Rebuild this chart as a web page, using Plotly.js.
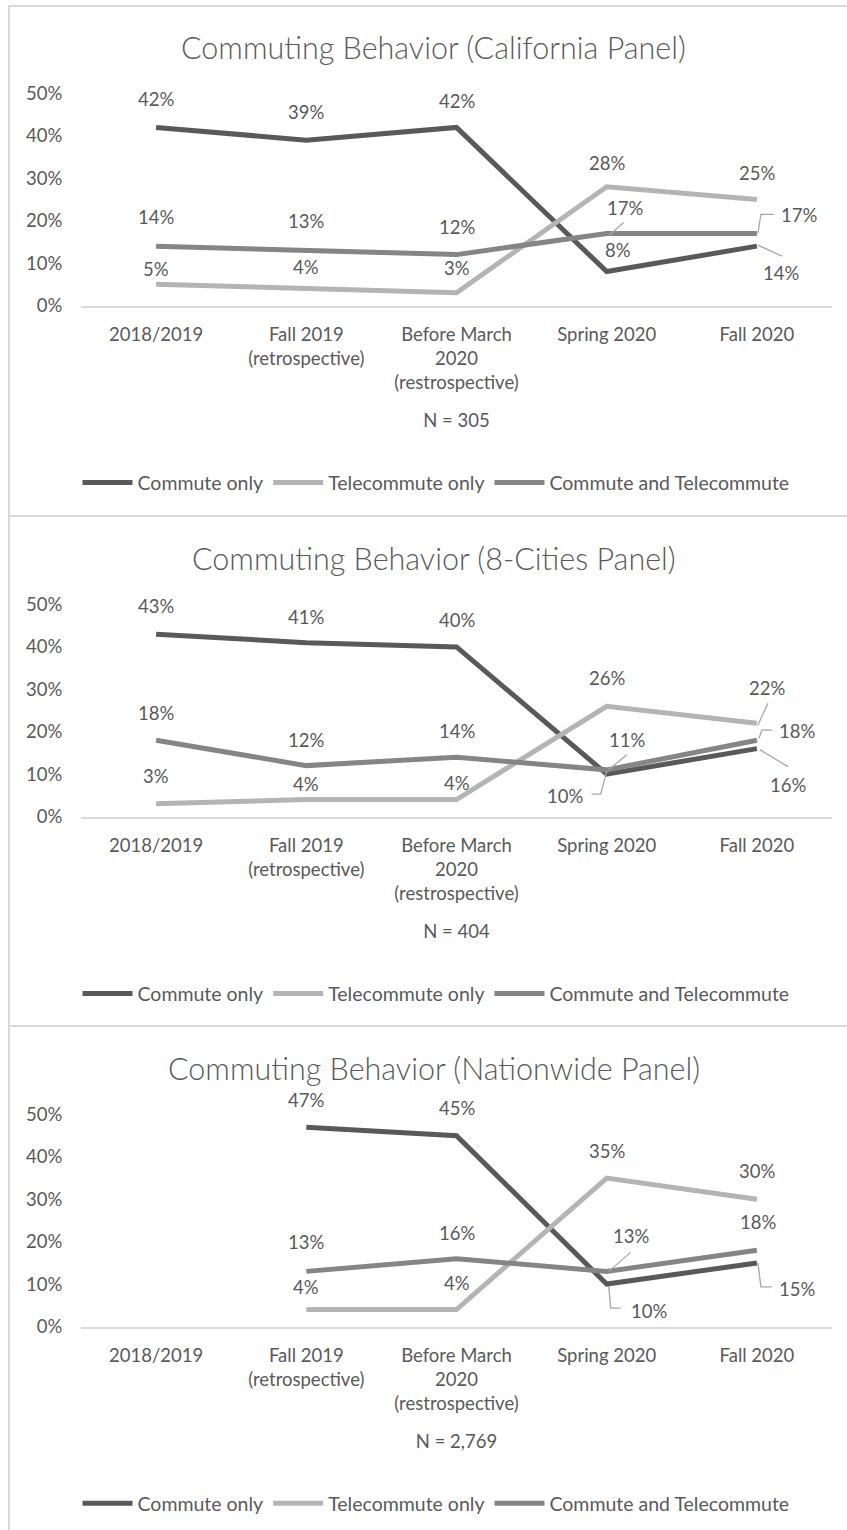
<!DOCTYPE html>
<html><head><meta charset="utf-8">
<script src="https://cdn.plot.ly/plotly-3.0.1.min.js"></script>
<style>html,body{margin:0;padding:0;background:#fff}#chart{width:847px;height:1530px}</style>
</head><body><div id="chart"></div>
<script>
// ---------------- data ----------------
const categories = ['2018/2019', 'Fall 2019', 'Before March 2020', 'Spring 2020', 'Fall 2020'];
const tickLabels = ['2018/2019', 'Fall 2019<br>(retrospective)', 'Before March<br>2020<br>(restrospective)', 'Spring 2020', 'Fall 2020'];
const seriesNames = ['Commute only', 'Telecommute only', 'Commute and Telecommute'];
const panelTitles = ['Commuting Behavior (California Panel)', 'Commuting Behavior (8-Cities Panel)', 'Commuting Behavior (Nationwide Panel)'];
const sampleSizes = ['N = 305', 'N = 404', 'N = 2,769'];
const yTickValues = [0, 10, 20, 30, 40, 50];
const yTickLabels = ['0%', '10%', '20%', '30%', '40%', '50%'];

const californiaCommute = [42, 39, 42, 8, 14];
const californiaTelecommute = [5, 4, 3, 28, 25];
const californiaBoth = [14, 13, 12, 17, 17];

const citiesCommute = [43, 41, 40, 10, 16];
const citiesTelecommute = [3, 4, 4, 26, 22];
const citiesBoth = [18, 12, 14, 11, 18];

const nationCommute = [null, 47, 45, 10, 15];
const nationTelecommute = [null, 4, 4, 35, 30];
const nationBoth = [null, 13, 16, 13, 18];

const panels = [
  [californiaCommute, californiaTelecommute, californiaBoth],
  [citiesCommute, citiesTelecommute, citiesBoth],
  [nationCommute, nationTelecommute, nationBoth]
];

// ---------------- style / layout config ----------------
const W = 847, H = 1530;
const FONT = "Lato, 'Open Sans', sans-serif";
const TEXT = '#595959';
const COLORS = ['#595959', '#b4b4b4', '#858585'];
const BORDER = '#d9d9d9';
const LEADER = '#a6a6a6';
const PLOT_LEFT = 81, PLOT_RIGHT = 832;
const PANEL_SHIFT = [0, 511, 1021];
const ZERO_Y = 305.5, SPAN = 212;
const TITLE_Y = 46.7, LEGEND_Y = 482.7, TITLE_X = 433.5, LEGEND_X = 436;
const TICK_SIZE = 18.5, LABEL_SIZE = 18.5, TITLE_SIZE = 30.5, LEGEND_SIZE = 19.5;

// label offsets [dx, dy] in px (dy up), per panel / series / point
const LABEL_OFFSETS = [
  [[[0, 28], [0, 28], [0, 26], [11, 22], [24, -27]],
   [[0, 15], [0, 22], [0, 25], [0, 24], [0, 27]],
   [[0, 29], [0, 29], [0, 28], [18, 25], [42, 18]]],
  [[[0, 28], [0, 26], [0, 27], [-42, -22], [31, -36]],
   [[0, 28], [0, 16], [0, 17], [0, 28], [10, 35]],
   [[0, 27], [0, 26], [0, 26], [20, 30], [40, 9]]],
  [[null, [0, 27], [0, 28], [42, -27], [40, -26]],
   [null, [0, 23], [0, 27], [0, 27], [0, 28]],
   [null, [0, 29], [0, 26], [24, 35], [1, 28]]]
];
// leader lines: panel, series, point, pixel path relative to the point (y up)
const LEADERS = [
  [0, 2, 3, [[2, -2], [17, 11]]],
  [0, 2, 4, [[1, 0], [4, 19], [17, 19]]],
  [0, 0, 4, [[1, 1], [25, -10]]],
  [1, 1, 4, [[1, -2], [11, 20]]],
  [1, 2, 4, [[2, 2], [5, 10], [15, 10]]],
  [1, 0, 4, [[3, -1], [31, -18]]],
  [1, 2, 3, [[2, 0], [20, 15]]],
  [1, 0, 3, [[0, 3], [-6, -20], [-15, -20]]],
  [2, 2, 3, [[2, 0], [24, 19]]],
  [2, 0, 3, [[2, -2], [4, -24], [14, -24]]],
  [2, 0, 4, [[1, 0], [4, -24], [15, -24]]]
];

const px = x => x / W;
const py = y => 1 - y / H;

const traces = [];
const annotations = [];
const shapes = [];
const layout = {
  width: W, height: H,
  margin: {l: 0, r: 0, t: 0, b: 0},
  paper_bgcolor: '#ffffff', plot_bgcolor: '#ffffff',
  font: {family: FONT, color: TEXT, size: TICK_SIZE},
  showlegend: true,
  annotations: annotations,
  shapes: shapes
};

panels.forEach((series, p) => {
  const sfx = p === 0 ? '' : String(p + 1);
  const xa = 'x' + sfx, ya = 'y' + sfx;
  const legendId = 'legend' + sfx;
  const zero = ZERO_Y + PANEL_SHIFT[p];

  series.forEach((vals, s) => {
    traces.push({
      type: 'scatter', mode: 'lines',
      x: categories, y: vals,
      name: seriesNames[s],
      xaxis: xa, yaxis: ya,
      legend: legendId,
      line: {color: COLORS[s], width: 5},
      connectgaps: false,
      hoverinfo: 'skip'
    });
    vals.forEach((v, i) => {
      if (v === null) return;
      const off = LABEL_OFFSETS[p][s][i];
      annotations.push({
        xref: xa, yref: ya, x: i, y: v,
        text: v + '%', showarrow: false,
        xshift: off[0], yshift: off[1],
        font: {family: FONT, size: LABEL_SIZE, color: TEXT},
        xanchor: 'center', yanchor: 'middle'
      });
    });
  });

  layout['xaxis' + sfx] = {
    type: 'category', domain: [px(PLOT_LEFT), px(PLOT_RIGHT)],
    anchor: ya, range: [-0.5, categories.length - 0.5],
    tickvals: categories, ticktext: tickLabels,
    showgrid: false, zeroline: false,
    showline: true, linecolor: BORDER, linewidth: 2,
    ticks: 'outside', ticklen: 11, tickcolor: 'rgba(0,0,0,0)',
    tickfont: {family: FONT, size: TICK_SIZE, color: TEXT},
    title: {text: sampleSizes[p], font: {family: FONT, size: TICK_SIZE, color: TEXT}, standoff: 22},
    fixedrange: true
  };
  layout['yaxis' + sfx] = {
    domain: [py(zero), py(zero - SPAN)],
    anchor: xa, range: [0, 50],
    tickvals: yTickValues, ticktext: yTickLabels,
    showgrid: false, zeroline: false, showline: false,
    ticks: 'outside', ticklen: 14, tickcolor: 'rgba(0,0,0,0)',
    tickfont: {family: FONT, size: TICK_SIZE, color: TEXT},
    fixedrange: true
  };
  layout[legendId] = {
    orientation: 'h', x: px(LEGEND_X), y: py(LEGEND_Y + PANEL_SHIFT[p]),
    xanchor: 'center', yanchor: 'middle',
    itemwidth: 50,
    font: {family: FONT, size: LEGEND_SIZE, color: TEXT},
    bgcolor: 'rgba(0,0,0,0)', traceorder: 'normal'
  };
  annotations.push({
    xref: 'paper', yref: 'paper',
    x: px(TITLE_X), y: py(TITLE_Y + PANEL_SHIFT[p]),
    xanchor: 'center', yanchor: 'middle', showarrow: false,
    text: panelTitles[p],
    font: {family: FONT, size: TITLE_SIZE, color: TEXT, weight: 300}
  });
  // top border / panel separators
  const sepY = 6 + PANEL_SHIFT[p] + (p === 0 ? 0 : -1);
  shapes.push({
    type: 'line', xref: 'paper', yref: 'paper',
    x0: px(9), x1: 1, y0: py(sepY), y1: py(sepY),
    line: {color: BORDER, width: 2}
  });
});

// left border
shapes.push({type: 'line', xref: 'paper', yref: 'paper', x0: px(9), x1: px(9), y0: py(5), y1: 0,
  line: {color: BORDER, width: 2}});

// leader lines
LEADERS.forEach(([p, s, i, pts]) => {
  const sfx = p === 0 ? '' : String(p + 1);
  const path = pts.map((pt, k) => (k === 0 ? 'M' : 'L') + pt[0] + ',' + pt[1]).join(' ');
  shapes.push({
    type: 'path', xref: 'x' + sfx, yref: 'y' + sfx,
    xsizemode: 'pixel', ysizemode: 'pixel',
    xanchor: i, yanchor: panels[p][s][i],
    path: path,
    line: {color: LEADER, width: 1.3}
  });
});

Plotly.newPlot('chart', traces, layout, {displayModeBar: false, staticPlot: true});
</script>
</body></html>
